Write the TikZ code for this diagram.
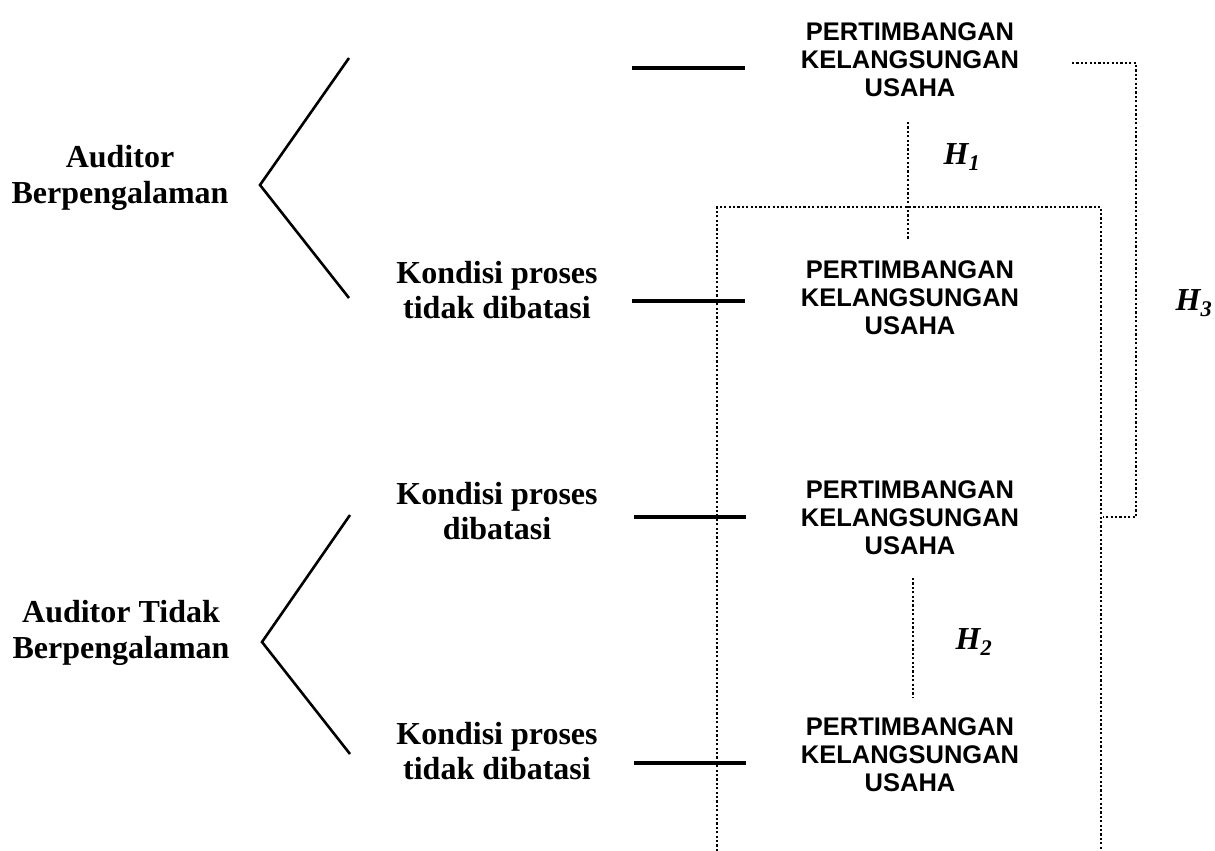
\documentclass[tikz,border=0pt]{standalone}
\usepackage{fontspec}
\setmainfont{Liberation Serif}
\newfontfamily\arialfont{Liberation Sans}
\begin{document}
\begin{tikzpicture}[x=1pt,y=-1pt,
  pku/.style={align=center,font=\arialfont\bfseries\fontsize{25.5}{28}\selectfont,inner sep=0pt},
  lbl/.style={align=center,font=\bfseries\fontsize{32}{35.5}\selectfont,inner sep=0pt},
  hyp/.style={font=\bfseries\itshape\fontsize{32}{36}\selectfont,inner sep=0pt},
  solidline/.style={line width=3.2pt},
  chev/.style={line width=2.6pt},
  dotline/.style={line width=2.6pt,dash pattern=on 2.2pt off 2.2pt}]
\useasboundingbox (0,0) rectangle (1215,851);
% PKU nodes
\node[pku] (p1) at (910,60) {PERTIMBANGAN\\KELANGSUNGAN\\USAHA};
\node[pku] (p2) at (910,298) {PERTIMBANGAN\\KELANGSUNGAN\\USAHA};
\node[pku] (p3) at (910,518) {PERTIMBANGAN\\KELANGSUNGAN\\USAHA};
\node[pku] (p4) at (910,755) {PERTIMBANGAN\\KELANGSUNGAN\\USAHA};
% left labels
\node[lbl] (a1) at (120,178) {Auditor\\Berpengalaman};
\node[lbl] (a2) at (121,633) {Auditor Tidak\\Berpengalaman};
\node[lbl] (k2) at (497,290) {Kondisi proses\\tidak dibatasi};
\node[lbl] (k3) at (497,511) {Kondisi proses\\dibatasi};
\node[lbl] (k4) at (497,751) {Kondisi proses\\tidak dibatasi};
% hypotheses
\node[hyp] (h1) at (962,157) {H\textsubscript{1}};
\node[hyp] (h2) at (974,642) {H\textsubscript{2}};
\node[hyp] (h3) at (1194,303) {H\textsubscript{3}};
% chevrons
\coordinate (c1t) at (349,58);
\coordinate (c1v) at (260,185);
\coordinate (c1b) at (349,298);
\coordinate (c2t) at (350,515);
\coordinate (c2v) at (262,642);
\coordinate (c2b) at (350,754);
\draw[chev] (c1t) -- (c1v) -- (c1b);
\draw[chev] (c2t) -- (c2v) -- (c2b);
% horizontal solid lines
\coordinate (l1a) at (632,68);  \coordinate (l1b) at (745,68);
\coordinate (l2a) at (632,301); \coordinate (l2b) at (745,301);
\coordinate (l3a) at (634,517); \coordinate (l3b) at (746,517);
\coordinate (l4a) at (634,763); \coordinate (l4b) at (746,763);
\draw[solidline] (l1a) -- (l1b);
\draw[solidline] (l2a) -- (l2b);
\draw[solidline] (l3a) -- (l3b);
\draw[solidline] (l4a) -- (l4b);
% dotted connectors
\coordinate (d1a) at (908,122); \coordinate (d1b) at (908,240);
\draw[dotline] (d1a) -- (d1b);
\coordinate (d2a) at (913,578); \coordinate (d2b) at (913,697);
\draw[dotline] (d2a) -- (d2b);
\coordinate (r1) at (717,851); \coordinate (r2) at (717,207);
\coordinate (r3) at (1101,207); \coordinate (r4) at (1101,851);
\draw[dotline] (r1) -- (r2) -- (r3) -- (r4);
\coordinate (e1) at (1072,63); \coordinate (e2) at (1136,63);
\coordinate (e3) at (1136,517); \coordinate (e4) at (1103,517);
\draw[dotline] (e1) -- (e2) -- (e3) -- (e4);
\end{tikzpicture}
\end{document}
